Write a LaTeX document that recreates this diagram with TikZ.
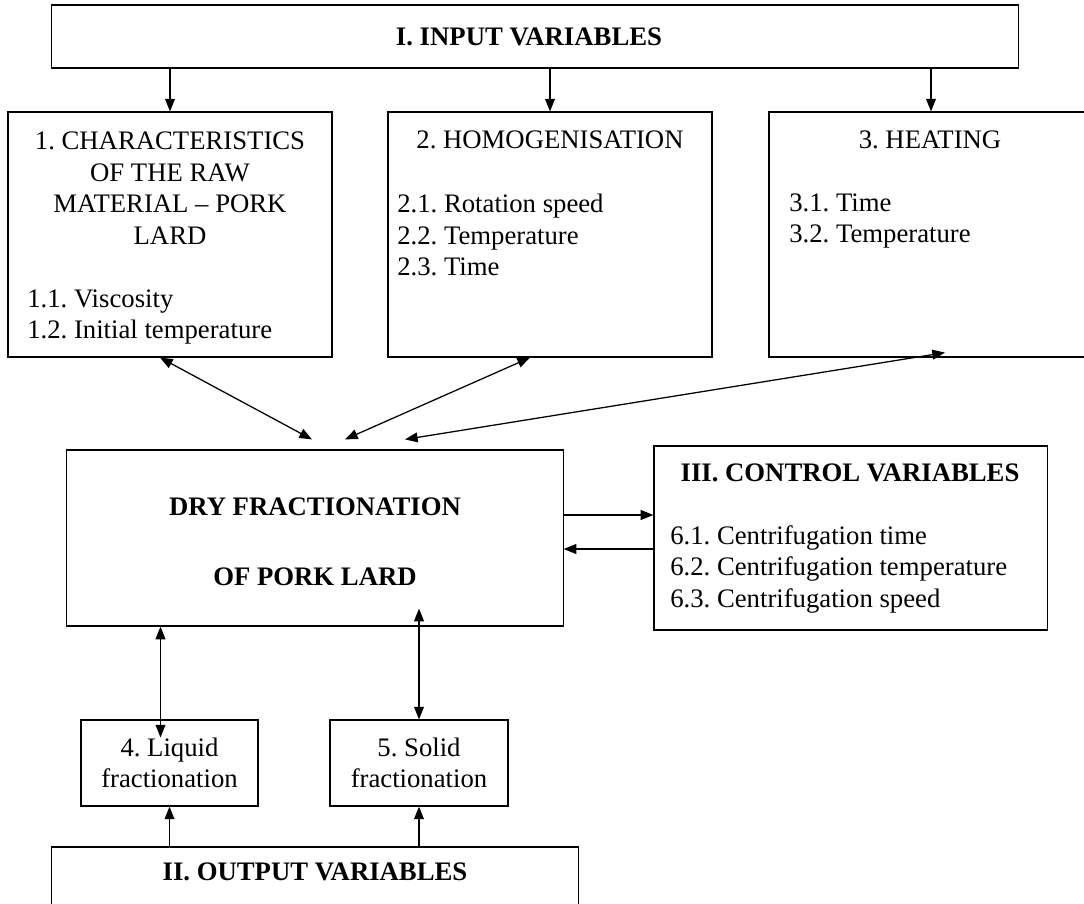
\documentclass[tikz,border=0pt]{standalone}
\usepackage{fontspec}
\setmainfont{Liberation Serif}
\usetikzlibrary{arrows.meta,positioning,calc}
\frenchspacing

\begin{document}
\begin{tikzpicture}[
  x=0.025cm, y=-0.025cm,
  box/.style={rectangle, draw, line width=0.8pt, inner sep=0pt},
  txt/.style={inner sep=0pt, align=center, font=\fontsize{19}{22.4}\selectfont},
  items/.style={inner sep=0pt, align=left, anchor=west, font=\fontsize{19}{22.4}\selectfont},
  head/.style={inner sep=0pt, align=center, font=\fontsize{19}{22.4}\selectfont\bfseries},
  arr/.style={-{Triangle[length=9pt, width=7pt]}, line width=0.9pt},
  darr/.style={{Triangle[length=9pt, width=7pt]}-{Triangle[length=9pt, width=7pt]}, line width=0.9pt}
]
\useasboundingbox (0,0) rectangle (1084,903);

% Top: input variables
\node[box, minimum width=24.15cm, minimum height=1.575cm] (input) at (535,36.5) {};
\node[head] (inputtxt) at (529,37) {I. INPUT VARIABLES};

% Three input groups
\node[box, minimum width=8.1cm, minimum height=6.125cm] (raw) at (170,234.5) {};
\node[txt] (rawtitle) at (170,188) {1. CHARACTERISTICS\\OF THE RAW\\MATERIAL -- PORK\\LARD};
\node[items] (rawitems) at (27,317) {1.1. Viscosity\\1.2. Initial temperature};

\node[box, minimum width=8.1cm, minimum height=6.125cm] (homog) at (550,234.5) {};
\node[txt] (homogtitle) at (550,140) {2. HOMOGENISATION};
\node[items] (homogitems) at (397,235) {2.1. Rotation speed\\2.2. Temperature\\2.3. Time};

\node[box, minimum width=8.1cm, minimum height=6.125cm] (heat) at (931,234.5) {};
\node[txt] (heattitle) at (930,140) {3. HEATING};
\node[items] (heatitems) at (789,221) {3.1. Time\\3.2. Temperature};

\draw[arr] (raw.north |- input.south) -- (raw.north);
\draw[arr] (homog.north |- input.south) -- (homog.north);
\draw[arr] (heat.north |- input.south) -- (heat.north);

% Process
\node[box, minimum width=12.4cm, minimum height=4.4cm] (dry) at (315,538) {};
\node[head] (drytxt) at (315,542) {DRY FRACTIONATION\\[0.95cm]OF PORK LARD};

\draw[darr] ($(raw.south)+(-10,0)$) -- ($(dry.north)+(-3,-10)$);
\draw[darr] ($(homog.south)+(-20,0)$) -- ($(dry.north)+(30,-10)$);
\draw[darr] ($(heat.south)+(14,-5)$) -- ($(dry.north)+(90,-10)$);

% Control variables
\node[box, minimum width=9.825cm, minimum height=4.6cm] (control) at (850.5,538) {};
\node[head] (controltxt) at (850,473) {III. CONTROL VARIABLES};
\node[items] (controlitems) at (670,569) {6.1. Centrifugation time\\6.2. Centrifugation temperature\\6.3. Centrifugation speed};

\draw[arr] ($(dry.east)+(0,-23)$) -- ($(control.west)+(0,-23)$);
\draw[arr] ($(control.west)+(0,11)$) -- ($(dry.east)+(0,11)$);

% Outputs
\node[box, minimum width=4.425cm, minimum height=2.15cm] (liquid) at (169.5,763) {};
\node[txt] (liquidtxt) at (169.5,763) {4. Liquid\\fractionation};
\node[box, minimum width=4.45cm, minimum height=2.15cm] (solid) at (419,763) {};
\node[txt] (solidtxt) at (419,763) {5. Solid\\fractionation};

\draw[darr] ($(dry.south -| liquid.north)+(-9,0)$) -- ($(liquid.north)+(-9,18)$);
\draw[darr] ($(dry.south -| solid.north)+(0,-18)$) -- (solid.north);

\node[box, minimum width=13.15cm, minimum height=2.05cm] (output) at (315,888) {};
\node[head] (outputtxt) at (315,872) {II. OUTPUT VARIABLES};

\draw[arr] (liquid.south |- output.north) -- (liquid.south);
\draw[arr] (solid.south |- output.north) -- (solid.south);

\end{tikzpicture}
\end{document}
